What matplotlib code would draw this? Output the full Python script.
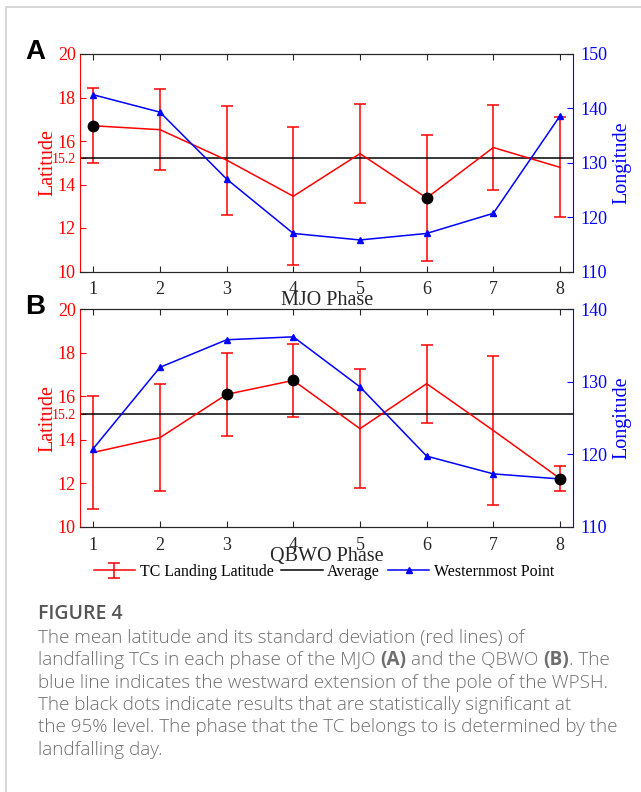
import numpy as np
import matplotlib
matplotlib.use('Agg')
import matplotlib.pyplot as plt
from matplotlib.lines import Line2D

# phases 1-8
phases = [1, 2, 3, 4, 5, 6, 7, 8]

# panel A : MJO
mjo_lat = [16.7, 16.52, 15.12, 13.46, 15.42, 13.38, 15.70, 14.79]
mjo_err = [1.72, 1.85, 2.50, 3.17, 2.28, 2.88, 1.95, 2.30]
mjo_lon = [142.5, 139.3, 127.0, 117.0, 115.8, 117.0, 120.7, 138.6]
mjo_sig = [1, 6]

# panel B : QBWO
qbwo_lat = [13.42, 14.10, 16.09, 16.73, 14.51, 16.58, 14.43, 12.22]
qbwo_err = [2.60, 2.47, 1.90, 1.67, 2.73, 1.80, 3.42, 0.58]
qbwo_lon = [120.8, 132.0, 135.8, 136.2, 129.3, 119.75, 117.3, 116.6]
qbwo_sig = [3, 4, 8]

avg_lat = 15.2
lat_ticks = [10, 12, 14, 15.2, 16, 18, 20]

serif = 'Liberation Serif'
dark = '#262626'

W, H = 641, 792
fig = plt.figure(figsize=(W / 100, H / 100), dpi=100)


def panel(top_px, lat, err, lon, sig, lon_lim, xlabel, letter):
    ax = fig.add_axes([80 / W, 1 - (top_px + 217.5) / H, 493.3 / W, 217.5 / H])
    eb = ax.errorbar(phases, lat, yerr=err, color='red', lw=1.1, capsize=4,
                     capthick=1.1, elinewidth=1.1)
    avg = ax.axhline(avg_lat, color='black', lw=1.1)
    ax.set_xlim(0.8, 8.2)
    ax.set_ylim(10, 20)
    ax.set_yticks(lat_ticks)
    ax.set_yticklabels([('%g' % v) for v in lat_ticks])
    ax.set_xticks(phases)
    ax.tick_params(axis='x', direction='in', top=True, length=4, colors=dark,
                   labelsize=13, pad=7)
    ax.tick_params(axis='y', direction='in', length=4, colors='red', labelsize=13, pad=3)
    for lab in ax.get_yticklabels():
        lab.set_fontfamily(serif)
        if lab.get_text() == '15.2':
            lab.set_fontsize(10)
    for lab in ax.get_xticklabels():
        lab.set_fontfamily(serif)
    ax.spines['left'].set_color('red')
    ax.spines['top'].set_color(dark)
    ax.spines['bottom'].set_color(dark)
    ax.spines['right'].set_visible(False)
    ax.set_ylabel('Latitude', color='red', fontsize=14.5, family=serif, labelpad=-4)
    ax.set_xlabel(xlabel, color=dark, fontsize=14.5, family=serif, labelpad=-5)

    ax2 = ax.twinx()
    wp, = ax2.plot(phases, lon, color='blue', lw=1.1, marker='^', ms=4.5)
    # significant phases: black dots drawn above everything, in latitude units
    ax2.plot(sig, [lat[p - 1] for p in sig], 'o', color='black', ms=7.5,
             zorder=5, transform=ax.transData)
    ax2.set_ylim(*lon_lim)
    ax2.set_yticks(np.arange(lon_lim[0], lon_lim[1] + 1, 10))
    ax2.tick_params(axis='y', direction='in', length=4, colors='blue', labelsize=13, pad=5)
    for lab in ax2.get_yticklabels():
        lab.set_fontfamily(serif)
    ax2.spines['right'].set_color('blue')
    ax2.spines['left'].set_visible(False)
    ax2.spines['top'].set_color(dark)
    ax2.spines['bottom'].set_color(dark)
    ax2.set_ylabel('Longitude', color='blue', fontsize=14.5, family=serif, labelpad=4)

    fig.text(35 / W, 1 - (top_px - 2) / H, letter, fontsize=20, fontweight='bold',
             family='Liberation Sans', ha='center', va='center')
    return eb, avg, wp


panel(54, mjo_lat, mjo_err, mjo_lon, mjo_sig, (110, 150), 'MJO Phase', 'A')
handles = panel(309.3, qbwo_lat, qbwo_err, qbwo_lon, qbwo_sig, (110, 140), 'QBWO Phase', 'B')

fig.legend(handles, ['TC Landing Latitude', 'Average', 'Westernmost Point'],
           loc='center', bbox_to_anchor=(324 / W, 1 - 572 / H),
           ncol=3, frameon=False, prop={'family': serif, 'size': 11.4},
           handlelength=2.6, handletextpad=0.3, columnspacing=0.5)

# caption
cap_gray = '#6e6e6e'
cap_font = 'Open Sans'
cap_size = 13.6
cap_x = 38.0
fig.text(cap_x / W, 1 - 614 / H, 'FIGURE 4', color='#555555', fontsize=14,
         family=cap_font, fontweight='semibold', va='center')

lines = [
    [('The mean latitude and its standard deviation (red lines) of', False)],
    [('landfalling TCs in each phase of the MJO ', False), ('(A)', True),
     (' and the QBWO ', False), ('(B)', True), ('. The', False)],
    [('blue line indicates the westward extension of the pole of the WPSH.', False)],
    [('The black dots indicate results that are statistically significant at', False)],
    [('the 95% level. The phase that the TC belongs to is determined by the', False)],
    [('landfalling day.', False)],
]

renderer = fig.canvas.get_renderer()


def text_w(s, bold):
    t = fig.text(0, 0, s, fontsize=cap_size, family=cap_font,
                 fontweight='bold' if bold else 'light')
    w = t.get_window_extent(renderer).width
    t.remove()
    return w


space_w = text_w('x x', False) - text_w('xx', False)

for i, segs in enumerate(lines):
    y = 1 - (637.5 + 22.5 * i) / H
    x_px = cap_x
    for s, bold in segs:
        core = s.strip(' ')
        x_px += (len(s) - len(s.lstrip(' '))) * space_w
        fig.text(x_px / W, y, core, fontsize=cap_size, family=cap_font, color=cap_gray,
                 fontweight='bold' if bold else 'light', va='center')
        x_px += text_w(core, bold)
        x_px += (len(s) - len(s.rstrip(' '))) * space_w

# light frame
fig.add_artist(Line2D([6 / W, 6 / W, 1], [0, 1 - 7 / H, 1 - 7 / H],
                      transform=fig.transFigure, color='#cfcfcf', lw=1.2))

fig.savefig('out.png', dpi=100)
